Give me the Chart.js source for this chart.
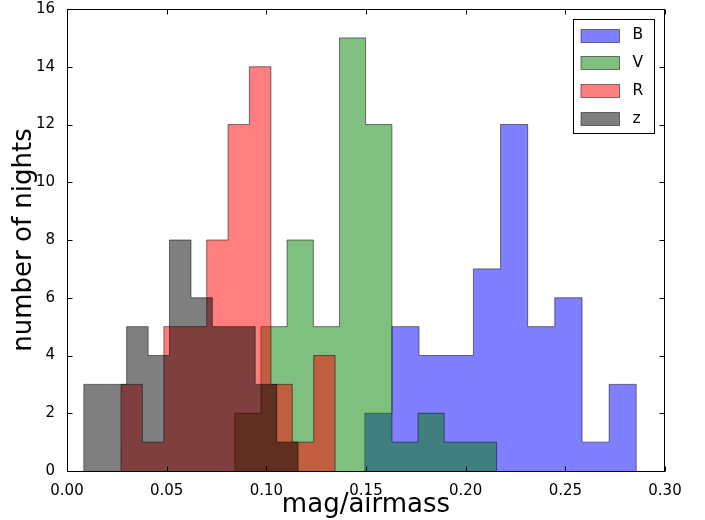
<!DOCTYPE html>
<html>
<head>
<meta charset="utf-8">
<script src="https://cdn.jsdelivr.net/npm/chart.js@4/dist/chart.umd.min.js"></script>
<style>
html,body{margin:0;padding:0;background:#fff;}
canvas{display:block;}
</style>
</head>
<body>
<canvas id="c" width="705" height="520"></canvas>
<script>
// ---- data ----
const seriesNames = ['B', 'V', 'R', 'z'];

const edgesB  = [0.1494, 0.1630, 0.1766, 0.1903, 0.2039, 0.2175, 0.2311, 0.2447, 0.2584, 0.2720, 0.2856];
const countsB = [2, 5, 4, 4, 7, 12, 5, 6, 1, 3];

const edgesV  = [0.0842, 0.0973, 0.1104, 0.1236, 0.1367, 0.1498, 0.1630, 0.1761, 0.1892, 0.2024, 0.2155];
const countsV = [2, 5, 8, 5, 15, 12, 1, 2, 1, 1];

const edgesR  = [0.0271, 0.0378, 0.0486, 0.0593, 0.0701, 0.0808, 0.0915, 0.1023, 0.1130, 0.1238, 0.1345];
const countsR = [3, 1, 5, 5, 8, 12, 14, 3, 1, 4];

const edgesZ  = [0.0084, 0.0192, 0.0299, 0.0407, 0.0514, 0.0622, 0.0729, 0.0837, 0.0944, 0.1052, 0.1159];
const countsZ = [3, 3, 5, 4, 8, 6, 5, 5, 3, 1];

const xTicks = [0.00, 0.05, 0.10, 0.15, 0.20, 0.25, 0.30];
const yTicks = [0, 2, 4, 6, 8, 10, 12, 14, 16];

const xTitle = 'mag/airmass';
const yTitle = 'number of nights';

// ---- styles ----
const fillColors = ['rgba(0,0,255,0.5)', 'rgba(0,128,0,0.5)', 'rgba(255,0,0,0.5)', 'rgba(0,0,0,0.5)'];
const edgeColor = 'rgba(0,0,0,0.5)';
const FONT = "'DejaVu Sans', 'Liberation Sans', sans-serif";

function stepPoints(edges, counts) {
  const pts = [{x: edges[0], y: 0}];
  counts.forEach((c, i) => pts.push({x: edges[i], y: c}));
  pts.push({x: edges[edges.length - 1], y: 0});
  return pts;
}

const allEdges = [edgesB, edgesV, edgesR, edgesZ];
const allCounts = [countsB, countsV, countsR, countsZ];

const datasets = seriesNames.map((name, i) => ({
  label: name,
  data: stepPoints(allEdges[i], allCounts[i]),
  stepped: true,
  fill: 'origin',
  backgroundColor: fillColors[i],
  borderColor: edgeColor,
  borderWidth: 1,
  pointRadius: 0,
  tension: 0,
  order: seriesNames.length - i
}));

const framePlugin = {
  id: 'frame',
  afterDatasetsDraw(chart) {
    const {ctx, chartArea: a, scales} = chart;
    const L = Math.round(a.left) + 0.5, R = Math.round(a.right) - 0.5;
    const T = Math.round(a.top) + 0.5, B = Math.round(a.bottom) + 0.5;
    ctx.save();
    ctx.strokeStyle = '#000';
    ctx.lineWidth = 1;
    ctx.strokeRect(L, T, R - L, B - T);
    const tl = 5;
    ctx.beginPath();
    scales.x.ticks.forEach(t => {
      const px = Math.round(scales.x.getPixelForValue(t.value)) + 0.5;
      ctx.moveTo(px, B); ctx.lineTo(px, B - tl);
      ctx.moveTo(px, T); ctx.lineTo(px, T + tl);
    });
    scales.y.ticks.forEach(t => {
      const py = Math.round(scales.y.getPixelForValue(t.value)) + 0.5;
      ctx.moveTo(L, py); ctx.lineTo(L + tl, py);
      ctx.moveTo(R, py); ctx.lineTo(R - tl, py);
    });
    ctx.stroke();
    ctx.restore();
  }
};

const legendPlugin = {
  id: 'boxLegend',
  afterDraw(chart) {
    const {ctx, chartArea: a} = chart;
    const bx = Math.round(a.right) - 91.5, by = Math.round(a.top) + 10.5;
    const bw = 81, bh = 114;
    ctx.save();
    ctx.fillStyle = '#fff';
    ctx.fillRect(bx, by, bw, bh);
    ctx.strokeStyle = '#000';
    ctx.lineWidth = 1;
    ctx.strokeRect(bx, by, bw, bh);
    ctx.font = "15.5px " + FONT;
    ctx.textBaseline = 'middle';
    ctx.textAlign = 'left';
    chart.data.datasets.forEach((ds, i) => {
      const cy = by + 15.5 + i * 27.9;
      ctx.fillStyle = ds.backgroundColor;
      ctx.fillRect(bx + 7.5, Math.round(cy - 6.5) + 0.5, 38.5, 13);
      ctx.strokeStyle = edgeColor;
      ctx.strokeRect(bx + 7.5, Math.round(cy - 6.5) + 0.5, 38.5, 13);
      ctx.fillStyle = '#000';
      ctx.fillText(ds.label, bx + 59, cy);
    });
    ctx.restore();
  }
};

new Chart(document.getElementById('c'), {
  type: 'line',
  data: { datasets },
  options: {
    responsive: false,
    animation: false,
    devicePixelRatio: 1,
    layout: { padding: { top: 9, right: 40, left: 0, bottom: 0 } },
    plugins: {
      legend: { display: false },
      tooltip: { enabled: false },
      filler: { propagate: false }
    },
    scales: {
      x: {
        type: 'linear',
        min: 0, max: 0.3,
        afterBuildTicks: s => { s.ticks = xTicks.map(v => ({value: v})); },
        afterFit: s => { s.height = 49; s.paddingLeft = 0; s.paddingRight = 0; },
        grid: { display: false },
        border: { display: false },
        ticks: {
          color: '#000',
          padding: 3,
          maxRotation: 0,
          autoSkip: false,
          font: { family: FONT, size: 15 },
          callback: v => Number(v).toFixed(2)
        },
        title: {
          display: true,
          text: xTitle,
          color: '#000',
          font: { family: FONT, size: 26, lineHeight: 1.1 },
          padding: { top: 0, bottom: 0 }
        }
      },
      y: {
        type: 'linear',
        min: 0, max: 16,
        afterBuildTicks: s => { s.ticks = yTicks.map(v => ({value: v})); },
        afterFit: s => { s.width = 67; s.paddingTop = 0; s.paddingBottom = 0; },
        grid: { display: false },
        border: { display: false },
        ticks: {
          color: '#000',
          padding: 4,
          autoSkip: false,
          font: { family: FONT, size: 15 },
          callback: v => String(v)
        },
        title: {
          display: true,
          text: yTitle,
          color: '#000',
          font: { family: FONT, size: 26 },
          padding: { top: 9, bottom: 0 }
        }
      }
    }
  },
  plugins: [framePlugin, legendPlugin]
});
</script>
</body>
</html>
